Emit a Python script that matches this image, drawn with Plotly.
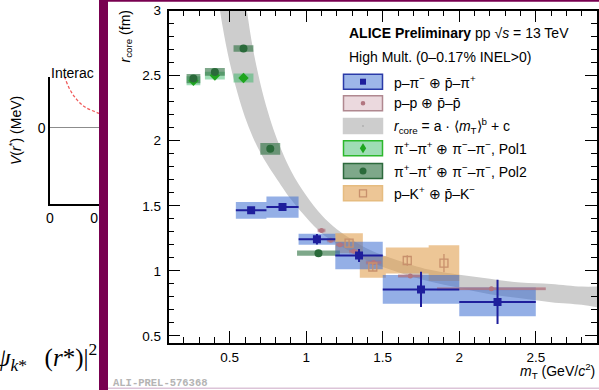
import plotly.graph_objects as go

W, H = 599, 390

# ---------------- data ----------------
# p–π⁻ ⊕ p̄–π⁺
ppi_mt = [0.64, 0.845, 1.07, 1.345, 1.75, 2.25]
ppi_mt_err = [0.10, 0.105, 0.12, 0.155, 0.25, 0.25]
ppi_r = [1.465, 1.49, 1.243, 1.118, 0.858, 0.762]
ppi_stat = [0.01, 0.01, 0.04, 0.05, 0.135, 0.17]
ppi_syst = [0.065, 0.082, 0.043, 0.106, 0.11, 0.11]

# p–p ⊕ p̄–p̄
pp_mt = [1.10, 1.16, 1.22, 1.31, 1.44, 1.68, 2.21]
pp_mt_err = [0.025, 0.025, 0.025, 0.03, 0.05, 0.08, 0.355]
pp_r = [1.31, 1.235, 1.20, 1.15, 1.065, 0.96, 0.862]
pp_syst = [0.018, 0.018, 0.018, 0.018, 0.018, 0.015, 0.012]

# π±π± Pol1
pi1_mt = [0.263, 0.403, 0.59]
pi1_mt_err = [0.045, 0.065, 0.065]
pi1_r = [2.46, 2.50, 2.482]
pi1_stat = [0.025, 0.02, 0.02]
pi1_syst = [0.035, 0.03, 0.035]

# π±π± Pol2
pi2_mt = [0.263, 0.403, 0.59, 0.765, 1.08]
pi2_mt_err = [0.045, 0.065, 0.065, 0.065, 0.14]
pi2_r = [2.477, 2.528, 2.708, 1.938, 1.136]
pi2_syst = [0.035, 0.03, 0.025, 0.045, 0.02]

# p–K⁺ ⊕ p̄–K⁻
pk_mt = [1.28, 1.435, 1.66, 1.90]
pk_mt_err = [0.09, 0.085, 0.14, 0.10]
pk_r = [1.213, 1.03, 1.08, 1.06]
pk_stat = [0.03, 0.03, 0.04, 0.07]
pk_syst = [0.077, 0.083, 0.10, 0.137]

# r_core = a·<mT>^b + c band (lower / upper edge)
band_mt = [0.40, 0.45, 0.50, 0.55, 0.60, 0.65, 0.70, 0.75, 0.80, 0.90, 1.00, 1.10,
           1.20, 1.30, 1.40, 1.50, 1.60, 1.80, 2.00, 2.20, 2.40, 2.60, 2.80, 2.90]
band_lo = [3.30, 2.90, 2.60, 2.37, 2.18, 2.03, 1.91, 1.81, 1.72, 1.55, 1.41, 1.29,
           1.21, 1.14, 1.08, 1.03, 0.99, 0.92, 0.87, 0.82, 0.79, 0.76, 0.74, 0.72]
band_hi = [6.40, 5.10, 4.20, 3.55, 3.10, 2.72, 2.44, 2.22, 2.04, 1.77, 1.58, 1.43,
           1.32, 1.24, 1.17, 1.12, 1.08, 1.01, 0.97, 0.94, 0.91, 0.90, 0.88, 0.88]

# potential sketch on the slide (left side)
pot_r = [0.13, 0.15, 0.20, 0.27, 0.35, 0.47, 0.50]
pot_v = [110, 98, 75, 55, 41, 30, 28]

# ---------------- helpers ----------------
def px(x):
    return x / W


def py(y):
    return 1 - y / H


def boxes(xs, dxs, ys, dys):
    bx, by = [], []
    for x, dx, y, dy in zip(xs, dxs, ys, dys):
        bx += [x - dx, x + dx, x + dx, x - dx, x - dx, None]
        by += [y - dy, y - dy, y + dy, y + dy, y - dy, None]
    return bx, by


def box_trace(xs, dxs, ys, dys, fill):
    bx, by = boxes(xs, dxs, ys, dys)
    return go.Scatter(x=bx, y=by, mode="lines", fill="toself", fillcolor=fill,
                      line=dict(width=0), hoverinfo="skip")


BLUE = "#1e1e9c"
PP = "#b27680"
G1 = "#1fa51f"
G2 = "#2a6a3a"
PK = "#c8906c"

fig = go.Figure()

# fit band
fig.add_trace(go.Scatter(x=band_mt, y=band_lo, mode="lines", line=dict(width=0, shape="spline"),
                         hoverinfo="skip"))
fig.add_trace(go.Scatter(x=band_mt, y=band_hi, mode="lines", line=dict(width=0, shape="spline"),
                         fill="tonexty", fillcolor="#cdcdcd", hoverinfo="skip"))

# systematic boxes
fig.add_trace(box_trace(pk_mt, pk_mt_err, pk_r, pk_syst, "rgba(225,160,80,0.6)"))
fig.add_trace(box_trace(pp_mt, pp_mt_err, pp_r, pp_syst, "rgba(190,130,145,0.3)"))
fig.add_trace(box_trace(pi1_mt, pi1_mt_err, pi1_r, pi1_syst, "rgba(40,180,90,0.45)"))
fig.add_trace(box_trace(pi2_mt, pi2_mt_err, pi2_r, pi2_syst, "rgba(40,110,60,0.6)"))
fig.add_trace(box_trace(ppi_mt, ppi_mt_err, ppi_r, ppi_syst, "rgba(60,110,210,0.55)"))

# points with statistical errors
fig.add_trace(go.Scatter(
    x=pp_mt, y=pp_r, mode="markers",
    marker=dict(symbol="circle", size=5, color=PP),
    error_x=dict(type="data", array=pp_mt_err, thickness=2.5, width=0, color="rgba(178,118,128,0.75)"),
    hoverinfo="skip"))
fig.add_trace(go.Scatter(
    x=pk_mt, y=pk_r, mode="markers",
    marker=dict(symbol="square-open", size=8, color=PK, line=dict(width=1.3, color=PK)),
    error_y=dict(type="data", array=pk_stat, thickness=1.3, width=0, color=PK),
    hoverinfo="skip"))
fig.add_trace(go.Scatter(
    x=pi1_mt, y=pi1_r, mode="markers",
    marker=dict(symbol="diamond", size=8, color=G1),
    error_y=dict(type="data", array=pi1_stat, thickness=1.5, width=0, color=G1),
    hoverinfo="skip"))
fig.add_trace(go.Scatter(
    x=pi2_mt, y=pi2_r, mode="markers",
    marker=dict(symbol="circle", size=8, color=G2),
    hoverinfo="skip"))
fig.add_trace(go.Scatter(
    x=ppi_mt, y=ppi_r, mode="markers",
    marker=dict(symbol="square", size=8, color=BLUE),
    error_x=dict(type="data", array=ppi_mt_err, thickness=2, width=0, color=BLUE),
    error_y=dict(type="data", array=ppi_stat, thickness=2, width=0, color=BLUE),
    hoverinfo="skip"))

# slide sketch: interaction potential
fig.add_trace(go.Scatter(x=pot_r, y=pot_v, mode="lines", xaxis="x2", yaxis="y2",
                         line=dict(color="#f05a5a", width=1.3, dash="3px,2px", shape="spline"),
                         hoverinfo="skip"))

FONT = "Liberation Sans, Arial, Helvetica, sans-serif"
axis_common = dict(
    showline=True, linecolor="black", linewidth=1.5, mirror="ticks",
    ticks="inside", ticklen=12, tickwidth=1.2, tickcolor="black",
    showgrid=False, zeroline=False, tickmode="linear", tick0=0, dtick=0.5,
    automargin=False,
    tickfont=dict(size=13.5, color="black", family=FONT),
    minor=dict(ticks="inside", ticklen=6, tickwidth=1.2, tickcolor="black",
               dtick=0.1, tick0=0, showgrid=False),
)

fig.update_layout(
    width=W, height=H,
    margin=dict(l=0, r=0, t=0, b=0, pad=0, autoexpand=False),
    paper_bgcolor="white", plot_bgcolor="white",
    showlegend=False,
    font=dict(family=FONT, color="black"),
    xaxis=dict(domain=[168.5 / W, 597 / W], range=[0.1, 2.9], anchor="y",
               ticklabelstandoff=2, **axis_common),
    yaxis=dict(domain=[47.5 / H, 379.5 / H], range=[0.45, 3.0], anchor="x",
               ticklabelstandoff=3, **axis_common),
    xaxis2=dict(domain=[50 / W, 100 / W], range=[0, 0.5], anchor="y2",
                tickmode="array", tickvals=[0, 0.5], ticktext=["0", "0.5"],
                showline=True, linecolor="black", linewidth=1.5, ticks="",
                showgrid=False, zeroline=False, automargin=False,
                tickfont=dict(size=14, color="black", family=FONT)),
    yaxis2=dict(domain=[1 - 204 / H, 1 - 77 / H], range=[-150, 100], anchor="x2",
                tickmode="array", tickvals=[0], ticktext=["0"],
                showline=True, linecolor="black", linewidth=1.5, ticks="",
                showgrid=False, zeroline=True, zerolinecolor="#8c8c8c", zerolinewidth=1.2,
                automargin=False,
                tickfont=dict(size=14, color="black", family=FONT)),
)

shapes = []
# slide frame pieces
shapes.append(dict(type="rect", xref="paper", yref="paper", x0=px(99), x1=px(108), y0=0, y1=1,
                   fillcolor="#780050", line=dict(width=0), layer="above"))
shapes.append(dict(type="rect", xref="paper", yref="paper", x0=px(108), x1=px(115), y0=py(230), y1=py(200),
                   fillcolor="white", line=dict(width=0), layer="above"))
shapes.append(dict(type="rect", xref="paper", yref="paper", x0=px(108), x1=1, y0=py(1.7), y1=1,
                   fillcolor="#780050", line=dict(width=0), layer="above"))
shapes.append(dict(type="rect", xref="paper", yref="paper", x0=px(108), x1=1, y0=py(389), y1=py(387.5),
                   fillcolor="#dcc4d8", line=dict(width=0), layer="above"))

# legend swatches
legend_rows = [81.7, 103.3, 126.0, 148.3, 171.0, 193.3]
legend_fill = ["rgba(60,110,210,0.5)", "rgba(190,130,145,0.3)", "#cdcdcd",
               "rgba(40,180,90,0.45)", "rgba(40,110,60,0.6)", "rgba(225,160,80,0.6)"]
legend_edge = ["#2a3aa8", "#b08890", "#cdcdcd", "#2cb82c", "#2d6a3d", "#e6bc80"]
legend_text = [
    "p–π<sup>−</sup> ⊕ p̄–π<sup>+</sup>",
    "p–p ⊕ p̄–p̄",
    "<i>r</i><sub>core</sub> = a · ⟨<i>m</i><sub>T</sub>⟩<sup>b</sup> + c",
    "π<sup>+</sup>–π<sup>+</sup> ⊕ π<sup>−</sup>–π<sup>−</sup>, Pol1",
    "π<sup>+</sup>–π<sup>+</sup> ⊕ π<sup>−</sup>–π<sup>−</sup>, Pol2",
    "p–K<sup>+</sup> ⊕ p̄–K<sup>−</sup>",
]
sx0, sx1 = 343.5, 382.5
cx = (sx0 + sx1) / 2
for yc, fc, ec in zip(legend_rows, legend_fill, legend_edge):
    shapes.append(dict(type="rect", xref="paper", yref="paper", x0=px(sx0), x1=px(sx1),
                       y0=py(yc + 7.5), y1=py(yc - 7.5), fillcolor=fc,
                       line=dict(color=ec, width=1.5), layer="above"))

r0, r1, r2, r3, r4, r5 = legend_rows
# glyphs inside the swatches
shapes.append(dict(type="rect", xref="paper", yref="paper", x0=px(cx - 3), x1=px(cx + 3),
                   y0=py(r0 + 3), y1=py(r0 - 3), fillcolor=BLUE, line=dict(width=0), layer="above"))
shapes.append(dict(type="circle", xref="paper", yref="paper", x0=px(cx - 2.3), x1=px(cx + 2.3),
                   y0=py(r1 + 2.3), y1=py(r1 - 2.3), fillcolor=PP, line=dict(width=0), layer="above"))
shapes.append(dict(type="circle", xref="paper", yref="paper", x0=px(cx - 0.8), x1=px(cx + 0.8),
                   y0=py(r2 + 0.8), y1=py(r2 - 0.8), fillcolor="#9a9a9a", line=dict(width=0), layer="above"))
shapes.append(dict(type="path", xref="paper", yref="paper",
                   path=f"M {px(cx)} {py(r3 - 5)} L {px(cx + 3.2)} {py(r3)} L {px(cx)} {py(r3 + 5)} "
                        f"L {px(cx - 3.2)} {py(r3)} Z",
                   fillcolor=G1, line=dict(width=0), layer="above"))
shapes.append(dict(type="circle", xref="paper", yref="paper", x0=px(cx - 3.5), x1=px(cx + 3.5),
                   y0=py(r4 + 3.5), y1=py(r4 - 3.5), fillcolor=G2, line=dict(width=0), layer="above"))
shapes.append(dict(type="rect", xref="paper", yref="paper", x0=px(cx - 3.5), x1=px(cx + 3.5),
                   y0=py(r5 + 3.5), y1=py(r5 - 3.5), fillcolor="rgba(0,0,0,0)",
                   line=dict(color=PK, width=1.3), layer="above"))
fig.update_layout(shapes=shapes)

ann = []


def note(x, y, text, size=14, xanchor="left", yanchor="middle", angle=0, family=FONT, color="black"):
    ann.append(dict(x=px(x), y=py(y), xref="paper", yref="paper", text=text, showarrow=False,
                    xanchor=xanchor, yanchor=yanchor, textangle=angle,
                    font=dict(size=size, family=family, color=color)))


note(346.7, 33, "<b>ALICE Preliminary</b> pp √<i>s</i> = 13 TeV")
note(346.7, 57, "High Mult. (0–0.17% INEL&gt;0)")
for yc, t in zip(legend_rows, legend_text):
    note(391.5, yc, t)

note(125, 8, "<i>r</i><sub>core</sub> (fm)", size=14, xanchor="center", yanchor="top", angle=-90)
note(597, 371, "<i>m</i><sub>T</sub> (GeV/<i>c</i><sup>2</sup>)", size=14, xanchor="right")
note(111, 383, "<b>ALI-PREL-576368</b>", size=10.5, family="Liberation Mono, Courier New, monospace",
     color="#b4b4b4")

# slide text
note(49, 73, "Interac", size=14)
note(15, 131, "<i>V</i>(<i>r</i><sup>*</sup>) (MeV)", size=14, xanchor="center", angle=-90)
note(99, 357, "<i>ψ</i><sub><i>k</i>*</sub>\u2002\u2009(<i>r</i>*)|<sup>2</sup>", size=25,
     xanchor="right", family="Liberation Serif, DejaVu Serif, serif")

fig.update_layout(annotations=ann)

fig.write_html("out.html")
